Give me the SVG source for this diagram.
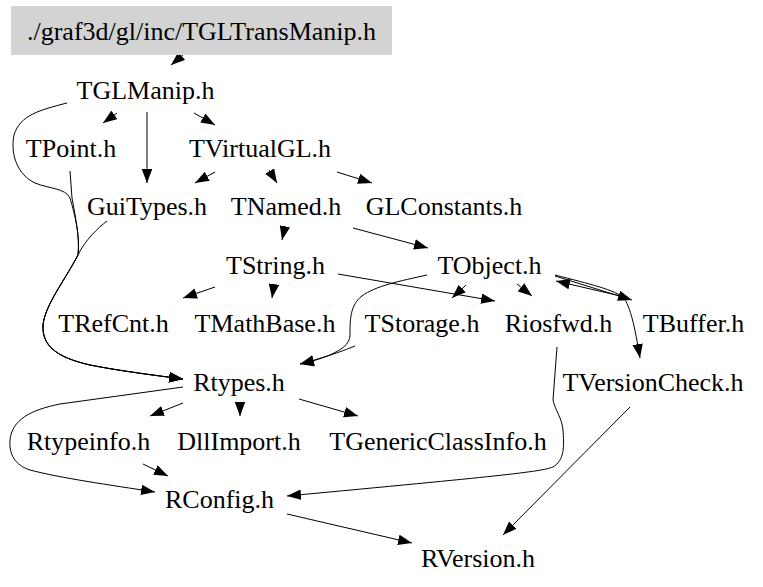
<svg xmlns="http://www.w3.org/2000/svg" width="763" height="587" viewBox="0 0 763 587">
<style>
text{font-family:"Liberation Serif","Times New Roman",serif;font-size:26px;fill:#000;text-anchor:middle}
.e{fill:none;stroke:#000;stroke-width:1}
</style>
<defs>
<marker id="a" markerUnits="userSpaceOnUse" markerWidth="15" markerHeight="11" refX="14" refY="5.25" orient="auto">
<path d="M0,0 L14,5.25 L0,10.5 Z" fill="#000"/>
</marker>
</defs>
<rect width="763" height="587" fill="#fff"/>
<g id="connectors">
<path class="e" marker-end="url(#a)" d="M184,54 L171,65"/>
<path class="e" marker-end="url(#a)" d="M117,113 L103,123"/>
<path class="e" marker-end="url(#a)" d="M147,112 L147,183"/>
<path class="e" marker-end="url(#a)" d="M194,113 L215,125"/>
<path class="e" marker-end="url(#a)" d="M67,103 C40,110 20,115 14,135 C10,155 18,175 35,183 C50,189 65,188 70,198 C75,215 80,235 78,255 C65,280 45,305 43,325 C42,345 55,357 90,365 C120,371 160,376 183,379"/>
<path class="e" marker-end="url(#a)" d="M70,171 L72,198 C76,220 80,240 78,255 C65,280 45,305 43,325 C42,345 55,357 90,365 C120,371 160,376 183,379"/>
<path class="e" marker-end="url(#a)" d="M107,221 C98,228 85,240 78,255 C65,280 45,305 43,325 C42,345 55,357 90,365 C120,371 160,376 183,379"/>
<path class="e" marker-end="url(#a)" d="M215,172 L195,183"/>
<path class="e" marker-end="url(#a)" d="M269,170 L277,183"/>
<path class="e" marker-end="url(#a)" d="M337,172 L372,183"/>
<path class="e" marker-end="url(#a)" d="M285,226 L282,240"/>
<path class="e" marker-end="url(#a)" d="M353,228 L428,248"/>
<path class="e" marker-end="url(#a)" d="M215,287 L183,298"/>
<path class="e" marker-end="url(#a)" d="M274,284 L272,298"/>
<path class="e" marker-end="url(#a)" d="M338,274 L495,301"/>
<path class="e" marker-end="url(#a)" d="M466,285 L452,298"/>
<path class="e" marker-end="url(#a)" d="M517,284 L532,296"/>
<path class="e" marker-end="url(#a)" d="M555,276 L632,300"/>
<path class="e" marker-end="url(#a)" d="M625,297 L556,281"/>
<path class="e" marker-end="url(#a)" d="M555,275 C590,284 615,290 624,298 C632,310 636,335 640,358"/>
<path class="e" marker-end="url(#a)" d="M427,275 C400,281 375,286 362,296 C350,305 350,320 350,335 C350,345 340,350 330,355 C320,359 310,362 300,364"/>
<path class="e" marker-end="url(#a)" d="M355,346 C345,350 330,356 300,364"/>
<path class="e" marker-end="url(#a)" d="M557,347 L553,400 C555,410 562,418 563,430 C564,445 565,460 553,467 C540,472 500,476 287,496"/>
<path class="e" marker-end="url(#a)" d="M630,407 L503,535"/>
<path class="e" marker-end="url(#a)" d="M287,514 L412,543"/>
<path class="e" marker-end="url(#a)" d="M183,403 L150,416"/>
<path class="e" marker-end="url(#a)" d="M240,402 L240,416"/>
<path class="e" marker-end="url(#a)" d="M299,399 L358,416"/>
<path class="e" marker-end="url(#a)" d="M183,387 L60,404 C30,410 12,420 10,440 C9,455 15,465 30,470 C60,478 110,485 155,492"/>
<path class="e" marker-end="url(#a)" d="M143,464 L168,476"/>
</g>
<g id="root"><rect x="11" y="6" width="381" height="49" fill="#d3d3d3"/><text x="201.5" y="40">./graf3d/gl/inc/TGLTransManip.h</text></g>
<g id="TGLManip"><text x="145.5" y="99">TGLManip.h</text></g>
<g id="TPoint"><text x="71" y="156.5">TPoint.h</text></g>
<g id="TVirtualGL"><text x="260" y="156.5">TVirtualGL.h</text></g>
<g id="GuiTypes"><text x="147" y="214.5">GuiTypes.h</text></g>
<g id="TNamed"><text x="286" y="214.5">TNamed.h</text></g>
<g id="GLConstants"><text x="444" y="214.5">GLConstants.h</text></g>
<g id="TString"><text x="275.5" y="273.5">TString.h</text></g>
<g id="TObject"><text x="489.5" y="273.5">TObject.h</text></g>
<g id="TRefCnt"><text x="113.5" y="332">TRefCnt.h</text></g>
<g id="TMathBase"><text x="265" y="332">TMathBase.h</text></g>
<g id="TStorage"><text x="422" y="332">TStorage.h</text></g>
<g id="Riosfwd"><text x="558.5" y="332">Riosfwd.h</text></g>
<g id="TBuffer"><text x="693.5" y="332">TBuffer.h</text></g>
<g id="Rtypes"><text x="239" y="391">Rtypes.h</text></g>
<g id="TVersionCheck"><text x="653" y="391">TVersionCheck.h</text></g>
<g id="Rtypeinfo"><text x="88.5" y="450">Rtypeinfo.h</text></g>
<g id="DllImport"><text x="239" y="450">DllImport.h</text></g>
<g id="TGenericClassInfo"><text x="438" y="450">TGenericClassInfo.h</text></g>
<g id="RConfig"><text x="219.5" y="508">RConfig.h</text></g>
<g id="RVersion"><text x="478" y="567">RVersion.h</text></g>
</svg>
